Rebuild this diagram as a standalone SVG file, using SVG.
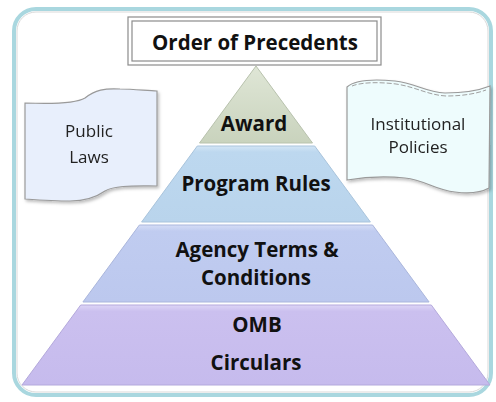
<svg xmlns="http://www.w3.org/2000/svg" width="496" height="402" viewBox="0 0 496 402">
<style>
.t{font-family:"Open Sans","Liberation Sans",sans-serif;font-weight:bold;fill:#111;text-anchor:middle;font-size:20.5px}
.s{font-family:"Open Sans","Liberation Sans",sans-serif;fill:#222;text-anchor:middle;font-size:17px}
.doc{stroke:#9a9a9a;stroke-width:1.2}
</style>
<defs>
<linearGradient id="gA" x1="0" y1="0" x2="0" y2="1"><stop offset="0" stop-color="#dfe6d6"/><stop offset="1" stop-color="#c9d3bd"/></linearGradient>
<linearGradient id="gP" x1="0" y1="0" x2="0" y2="1"><stop offset="0" stop-color="#d3e5f5"/><stop offset="0.08" stop-color="#bdd8ef"/><stop offset="1" stop-color="#b9d4ec"/></linearGradient>
<linearGradient id="gG" x1="0" y1="0" x2="0" y2="1"><stop offset="0" stop-color="#d5ddf6"/><stop offset="0.08" stop-color="#c0ccf0"/><stop offset="1" stop-color="#bcc8ee"/></linearGradient>
<linearGradient id="gO" x1="0" y1="0" x2="0" y2="1"><stop offset="0" stop-color="#ddd5f6"/><stop offset="0.08" stop-color="#cbc0ef"/><stop offset="1" stop-color="#c6bbed"/></linearGradient>
<filter id="sh" x="-10%" y="-10%" width="130%" height="130%"><feDropShadow dx="1.5" dy="2" stdDeviation="1.5" flood-color="#000" flood-opacity="0.25"/></filter>
</defs>
<g id="frame">
<rect x="14" y="9" width="477" height="386" rx="22" fill="#fff" stroke="#a9d7df" stroke-width="4"/>
<rect x="17" y="12" width="471" height="380" rx="19" fill="none" stroke="#d9d9d9" stroke-width="1"/>
</g>
<g id="title">
<rect x="128" y="17" width="253" height="48" fill="#fff" stroke="#8c8c8c" stroke-width="1.2"/>
<rect x="132" y="21" width="245" height="40" fill="#fff" stroke="#8c8c8c" stroke-width="1.2"/>
<text class="t" x="255" y="50">Order of Precedents</text>
</g>
<g id="public-laws" filter="url(#sh)">
<path class="doc" fill="#e8effc" d="M25,103 C50,104 75,104 85,98 C95,90 105,88 120,89 C135,89 148,91 157,91 L157,186 C135,186 115,185 105,191 C95,198 85,201 70,201 C55,201 40,200 25,199 Z"/>
<text class="s" x="89" y="137">Public</text>
<text class="s" x="89" y="163">Laws</text>
</g>
<g id="institutional-policies" filter="url(#sh)">
<path class="doc" fill="#eefcfd" d="M347,87 C355,80 375,79 395,81 C415,83 425,92 445,93 C465,93 480,90 490,86 L489,188 C480,193 470,194 455,192 C435,190 425,180 405,178 C385,176 365,177 347,180 Z"/>
<path d="M352,86 C362,82 380,82 396,84 C416,87 428,95 446,96 C465,96 478,93 486,90" fill="none" stroke="#a0a0a0" stroke-width="1" stroke-dasharray="5 2"/>
<text class="s" x="418" y="130">Institutional</text>
<text class="s" x="418" y="153">Policies</text>
</g>
<g id="award">
<path d="M256,66 L312.5,143 L199.5,143 Z" fill="url(#gA)" stroke="#b8c2ad" stroke-width="1"/>
<text class="t" x="254" y="131">Award</text>
</g>
<g id="program-rules">
<path d="M197.3,146 L314.7,146 L370.4,222 L141.6,222 Z" fill="url(#gP)" stroke="#a9c4dc" stroke-width="1"/>
<text class="t" x="256" y="191">Program Rules</text>
</g>
<g id="agency-terms">
<path d="M139.4,225 L372.6,225 L429.1,302 L82.9,302 Z" fill="url(#gG)" stroke="#aab6dc" stroke-width="1"/>
<text class="t" x="257" y="257">Agency Terms &amp;</text>
<text class="t" x="256" y="285">Conditions</text>
</g>
<g id="omb-circulars">
<path d="M80.7,305 L431.3,305 L490,385 L22,385 Z" fill="url(#gO)" stroke="#b4a9dc" stroke-width="1"/>
<text class="t" x="257" y="332">OMB</text>
<text class="t" x="256" y="370">Circulars</text>
</g>
</svg>
